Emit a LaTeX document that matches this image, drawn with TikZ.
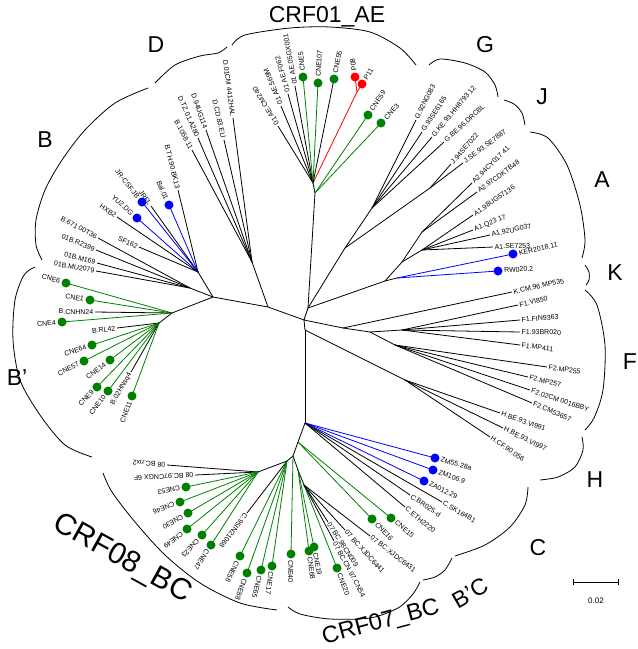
\documentclass[tikz,border=0pt]{standalone}
\usepackage{fontspec}
\setmainfont{Liberation Sans}
\usetikzlibrary{calc}
\definecolor{tgreen}{RGB}{0,128,0}
\definecolor{tblue}{RGB}{0,0,255}
\definecolor{tred}{RGB}{255,0,0}
\tikzset{
  br/.style={line width=0.8pt},
  lbl/.style={font=\fontsize{7}{8}\selectfont, inner sep=0pt},
  big/.style={font=\fontsize{23}{26}\selectfont, inner sep=0pt},
  brk/.style={line width=0.8pt},
}
\newcommand\tleaf[7]{%
  \coordinate (#1) at #3;
  \draw[br,#4] (#2) -- (#1);
  \def\tdot{#5}\def\tnone{none}%
  \ifx\tdot\tnone \def\tgap{1.5pt}\else \fill[#5] (#1) circle[radius=4.5pt]; \def\tgap{6pt}\fi
  \pgfmathanglebetweenpoints{\pgfpointanchor{#2}{center}}{\pgfpointanchor{#1}{center}}%
  \let\tang\pgfmathresult
  \ifnum#7=0
    \node[lbl,rotate=\tang,anchor=west] (#1t) at ($(#1)!-\tgap!(#2)$) {#6};
  \else
    \node[lbl,rotate=\tang+180,anchor=east] (#1t) at ($(#1)!-\tgap!(#2)$) {#6};
  \fi
}
\begin{document}
\begin{tikzpicture}[x=1pt,y=-1pt]
\useasboundingbox (0,0) rectangle (638,649);
% ---------- internal nodes ----------
\coordinate (c0) at (304,320);
\coordinate (nup) at (308,308);
\coordinate (aeS) at (315,193);
\coordinate (ae1) at (313,183);
\coordinate (aeR) at (357,92);
\coordinate (nGJA) at (345,248);
\coordinate (nG) at (372,208);
\coordinate (nJ) at (430,188);
\coordinate (nAK) at (385,281);
\coordinate (nK) at (397,278);
\coordinate (nA) at (402,262);
\coordinate (nA2) at (422,232);
\coordinate (nA1) at (422,250);
\coordinate (nR) at (343,328);
\coordinate (nF) at (370,332);
\coordinate (nF1) at (402,330);
\coordinate (nF2) at (395,345);
\coordinate (cd1) at (305,330);
\coordinate (nH) at (405,380);
\coordinate (cC) at (305,423);
\coordinate (cC2) at (298,442);
\coordinate (bc) at (293,456);
\coordinate (c7) at (298,470);
\coordinate (c7b) at (304,485);
\coordinate (c8) at (287,461);
\coordinate (c8b) at (258,472);
\coordinate (nDs) at (268,307);
\coordinate (nD) at (252,262);
\coordinate (nB) at (213,297);
\coordinate (nBa) at (198,272);
\coordinate (nBb) at (190,288);
\coordinate (bp1) at (172,313);
\coordinate (bp2) at (159,323);
\draw[br] (c0)--(nup); \draw[br] (nup)--(aeS); \draw[br] (aeS)--(ae1);
\draw[br,tred] (ae1)--(aeR);
\draw[br] (nup)--(nGJA); \draw[br] (nGJA)--(nG); \draw[br] (nGJA)--(nJ);
\draw[br] (nup)--(nAK); \draw[br] (nAK)--(nK); \draw[br] (nAK)--(nA);
\draw[br] (nA)--(nA2); \draw[br] (nA)--(nA1);
\draw[br] (c0)--(nR); \draw[br] (nR)--(nF); \draw[br] (nF)--(nF1); \draw[br] (nF)--(nF2);
\draw[br] (c0)--(cd1); \draw[br] (cd1)--(nH); \draw[br] (cd1)--(cC);
\draw[br] (cC)--(cC2); \draw[br] (cC2)--(bc); \draw[br] (bc)--(c7); \draw[br] (c7)--(c7b);
\draw[br] (bc)--(c8); \draw[br] (c8)--(c8b);
\draw[br] (c0)--(nDs); \draw[br] (nDs)--(nD); \draw[br] (nDs)--(nB);
\draw[br] (nB)--(nBa); \draw[br] (nB)--(nBb); \draw[br] (nB)--(bp1); \draw[br] (bp1)--(bp2);
% ---------- CRF01_AE ----------
\tleaf{ae01}{ae1}{(278,126)}{black}{none}{01 AE.CM240}{0}
\tleaf{ae02}{ae1}{(281,106)}{black}{none}{01 AE.569M}{0}
\tleaf{ae03}{ae1}{(288,94)}{black}{none}{01 AE.F062}{0}
\tleaf{ae04}{ae1}{(295,86)}{black}{none}{01 AE.05GX001}{0}
\tleaf{ae05}{ae1}{(303,77)}{tgreen}{tgreen}{CNE5}{0}
\tleaf{ae06}{ae1}{(318,83)}{tgreen}{tgreen}{CNE107}{0}
\tleaf{ae07}{ae1}{(334,79)}{black}{tgreen}{CNE55}{0}
\tleaf{ae08}{aeR}{(355,77)}{tred}{tred}{P08}{0}
\tleaf{ae09}{aeR}{(362,84)}{tred}{tred}{P11}{0}
\tleaf{ae10}{aeS}{(368,115)}{tgreen}{tgreen}{CNE59}{0}
\tleaf{ae11}{aeS}{(381,123)}{tgreen}{tgreen}{CNE3}{0}
% ---------- D ----------
\tleaf{d0}{nD}{(192,150)}{black}{none}{B.1058 11}{1}
\tleaf{d1}{nD}{(198,138)}{black}{none}{D.TZ.01.A280}{1}
\tleaf{d2}{nD}{(206,130)}{black}{none}{D.94UG114}{1}
\tleaf{d3}{nD}{(224,140)}{black}{none}{D.CD.83.ELI}{1}
\tleaf{d4}{nD}{(233,118)}{black}{none}{D.01CM 4412HAL}{1}
% ---------- B ----------
\tleaf{b01}{nBa}{(178,190)}{black}{none}{B.TH.90.BK13}{1}
\tleaf{b03}{nBa}{(169,205)}{tblue}{tblue}{Bal.01}{1}
\tleaf{b04}{nBa}{(151,206)}{black}{none}{JRFL}{1}
\tleaf{b05}{nBa}{(142,202)}{tblue}{tblue}{JR-CSF.JB}{1}
\tleaf{b06}{nBa}{(137,218)}{tblue}{tblue}{YU2.DG}{1}
\tleaf{b07}{nBa}{(117,217)}{black}{none}{HXB2}{1}
\tleaf{b08}{nBa}{(139,247)}{black}{none}{SF162}{1}
\tleaf{b09}{nBb}{(98,238)}{black}{none}{B.671 00T36}{1}
\tleaf{b10}{nBb}{(96,250)}{black}{none}{01B.R2399}{1}
\tleaf{b11}{nBb}{(97,263)}{black}{none}{01B.M169}{1}
\tleaf{b12}{nBb}{(96,271)}{black}{none}{01B.MU2079}{1}
% ---------- B' ----------
\tleaf{p01}{bp1}{(66,283)}{tgreen}{tgreen}{CNE6}{1}
\tleaf{p02}{bp1}{(90,300)}{tgreen}{tgreen}{CNE1}{1}
\tleaf{p03}{bp1}{(95,312)}{black}{none}{B.CNHN24}{1}
\tleaf{p04}{bp1}{(62,322)}{tgreen}{tgreen}{CNE4}{1}
\tleaf{p05}{bp2}{(117,328)}{black}{none}{B.RL42}{1}
\tleaf{p06}{bp2}{(92,345)}{tgreen}{tgreen}{CNE64}{1}
\tleaf{p07}{bp2}{(84,361)}{tgreen}{tgreen}{CNE57}{1}
\tleaf{p08}{bp2}{(110,360)}{tgreen}{tgreen}{CNE14}{1}
\tleaf{p09}{bp2}{(97,387)}{tgreen}{tgreen}{CNE9}{1}
\tleaf{p10}{bp2}{(108,391)}{tgreen}{tgreen}{CNE10}{1}
\tleaf{p11}{bp2}{(131,372)}{black}{none}{B.02HNsq4}{1}
\tleaf{p12}{bp2}{(132,396)}{tgreen}{tgreen}{CNE11}{1}
% ---------- G J A K ----------
\tleaf{g1}{nG}{(416,120)}{black}{none}{G.92NG083}{0}
\tleaf{g2}{nG}{(422,132)}{black}{none}{G.93SE6165}{0}
\tleaf{g3}{nG}{(432,137)}{black}{none}{G.KE.93.HH8793 12}{0}
\tleaf{g4}{nG}{(444,142)}{black}{none}{G.BE.96.DRCBL}{0}
\tleaf{j1}{nJ}{(451,164)}{black}{none}{J.94SE7022}{0}
\tleaf{j2}{nJ}{(463,163)}{black}{none}{J.SE.93.SE7887}{0}
\tleaf{a1}{nA2}{(472,183)}{black}{none}{A2.94CY017 41}{0}
\tleaf{a2}{nA2}{(477,192)}{black}{none}{A2.97CDKTB48}{0}
\tleaf{a3}{nA1}{(473,215)}{black}{none}{A1.98UG57136}{0}
\tleaf{a4}{nA1}{(473,230)}{black}{none}{A1.Q23 17}{0}
\tleaf{a5}{nA1}{(490,235)}{black}{none}{A1.92UG037}{0}
\tleaf{a6}{nA1}{(493,247)}{black}{none}{A1.SE7253}{0}
\tleaf{k1}{nK}{(513,254)}{tblue}{tblue}{KER2018.11}{0}
\tleaf{k2}{nK}{(498,271)}{tblue}{tblue}{RW020.2}{0}
\tleaf{k3}{nR}{(512,292)}{black}{none}{K.CM.96.MP535}{0}
% ---------- F H ----------
\tleaf{f1}{nF1}{(518,305)}{black}{none}{F1.VI850}{0}
\tleaf{f2}{nF1}{(520,320)}{black}{none}{F1.FIN9363}{0}
\tleaf{f3}{nF1}{(520,332)}{black}{none}{F1.93BR020}{0}
\tleaf{f4}{nF1}{(520,345)}{black}{none}{F1.MP411}{0}
\tleaf{f5}{nF2}{(547,367)}{black}{none}{F2.MP255}{0}
\tleaf{f6}{nF2}{(528,377)}{black}{none}{F2.MP257}{0}
\tleaf{f7}{nF2}{(530,390)}{black}{none}{F2.02CM 0016BBY}{0}
\tleaf{f8}{nF2}{(532,403)}{black}{none}{F2.CM53657}{0}
\tleaf{h1}{nH}{(500,413)}{black}{none}{H.BE.93.VI991}{0}
\tleaf{h2}{nH}{(503,428)}{black}{none}{H.BE.93.VI997}{0}
\tleaf{h3}{nH}{(490,437)}{black}{none}{H.CF.90.056}{0}
% ---------- C ----------
\tleaf{cz1}{cC}{(435,458)}{tblue}{tblue}{ZM55.28a}{0}
\tleaf{cz2}{cC}{(433,470)}{tblue}{tblue}{ZM106.9}{0}
\tleaf{cz3}{cC}{(424,481)}{tblue}{tblue}{ZA012.29}{0}
\tleaf{cz4}{cC}{(442,502)}{black}{none}{C.SK164B1}{0}
\tleaf{cz5}{cC}{(410,495)}{black}{none}{C.BR025-d}{0}
\tleaf{cz6}{cC}{(405,507)}{black}{none}{C.ETH2220}{0}
\tleaf{cz7}{cC2}{(391,518)}{tgreen}{tgreen}{CNE15}{0}
\tleaf{cz8}{cC2}{(372,519)}{tgreen}{tgreen}{CNE16}{0}
% ---------- CRF07_BC ----------
\tleaf{s1}{bc}{(291,554)}{tgreen}{tgreen}{CNE40}{0}
\tleaf{s2}{c7}{(309,551)}{tgreen}{tgreen}{CNE68}{0}
\tleaf{s3}{c7}{(314,547)}{tgreen}{tgreen}{CNE19}{0}
\tleaf{s4}{c7b}{(337,568)}{tgreen}{tgreen}{CNE20}{0}
\tleaf{s5}{c7b}{(328,522)}{black}{none}{07 BC.98CN009}{0}
\tleaf{s6}{c7b}{(334,541)}{black}{none}{07 BC.CN.97.CN54}{0}
\tleaf{s7}{c7b}{(345,530)}{black}{none}{07 BC.XJDC6441}{0}
\tleaf{s8}{c7b}{(370,536)}{black}{none}{07 BC.XJDC6431}{0}
% ---------- CRF08_BC ----------
\tleaf{e01}{c8b}{(167,465)}{black}{none}{08 BC.nx2}{0}
\tleaf{e02}{c8b}{(195,475)}{black}{none}{08 BC.97CNGX 6F}{0}
\tleaf{e03}{c8b}{(186,487)}{tgreen}{tgreen}{CNE53}{0}
\tleaf{e04}{c8b}{(180,502)}{tgreen}{tgreen}{CNE46}{0}
\tleaf{e05}{c8b}{(188,513)}{tgreen}{tgreen}{CNE30}{0}
\tleaf{e06}{c8b}{(187,529)}{tgreen}{tgreen}{CNE49}{0}
\tleaf{e07}{c8b}{(202,535)}{tgreen}{tgreen}{CNE23}{0}
\tleaf{e08}{c8b}{(211,545)}{tgreen}{tgreen}{CNE47}{0}
\tleaf{e09}{c8}{(247,513)}{black}{none}{C.95IN21068}{0}
\tleaf{e10}{c8}{(240,556)}{tgreen}{tgreen}{CNE58}{0}
\tleaf{e11}{c8}{(247,573)}{tgreen}{tgreen}{CNE88}{0}
\tleaf{e12}{c8}{(261,570)}{tgreen}{tgreen}{CNE65}{0}
\tleaf{e13}{c8}{(272,566)}{tgreen}{tgreen}{CNE17}{0}
% ---------- brackets ----------
\draw[brk] plot[smooth] coordinates {(155,83) (175,65) (200,56) (218,53) (227,47)};
\draw[brk] plot[smooth] coordinates {(232,45) (245,35) (290,28) (330,27) (370,32) (400,48) (416,65)};
\draw[brk] plot[smooth] coordinates {(429,65) (440,59) (465,63) (485,72) (495,85) (498,97)};
\draw[brk] plot[smooth] coordinates {(504,100) (514,104) (522,113) (525,125)};
\draw[brk] plot[smooth] coordinates {(530,132) (548,138) (567,165) (580,205) (585,240) (582,258)};
\draw[brk] plot[smooth] coordinates {(585,265) (589,272) (589,280) (586,285)};
\draw[brk] plot[smooth] coordinates {(585,290) (597,305) (605,345) (603,390) (594,418) (585,430)};
\draw[brk] plot[smooth] coordinates {(582,437) (583,450) (575,467) (558,477) (540,480)};
\draw[brk] plot[smooth] coordinates {(528,487) (525,505) (510,527) (485,545) (455,556)};
\draw[brk] plot[smooth] coordinates {(452,558) (445,570) (435,577) (423,580)};
\draw[brk] plot[smooth] coordinates {(288,607) (300,614) (330,619) (370,618) (398,608) (413,594) (420,582)};
\draw[brk] plot[smooth] coordinates {(103,473) (112,492) (135,522) (165,555) (200,583) (240,603) (277,610)};
\draw[brk] plot[smooth] coordinates {(35,267) (24,275) (15,300) (13,340) (20,380) (40,415) (65,445) (92,457)};
\draw[brk] plot[smooth] coordinates {(42,260) (36,245) (36,220) (45,190) (62,160) (85,130) (115,103) (148,88)};
% ---------- clade labels ----------
\node[big] (lAE) at (327,17) {CRF01\_AE};
\node[big] (lD) at (156,45) {D};
\node[big] (lG) at (485,45) {G};
\node[big] (lJ) at (542,97) {J};
\node[big] (lA) at (602,180) {A};
\node[big] (lB) at (45,140) {B};
\node[big] (lK) at (615,273) {K};
\node[big] (lF) at (630,362) {F};
\node[big] (lBp) at (17,378) {B'};
\node[big] (lH) at (595,480) {H};
\node[big] (lC) at (538,548) {C};
\node[big,rotate=30] (lBC) at (470,593) {B'C};
\node[big,rotate=15,font=\fontsize{23.5}{26}\selectfont] (l07) at (381,623) {CRF07\_BC};
\node[big,rotate=-29,font=\fontsize{30}{33}\selectfont] (l08) at (122,559) {CRF08\_BC};
% ---------- scale bar ----------
\coordinate (sb1) at (573,582); \coordinate (sb2) at (618,582);
\draw[br] (sb1)--(sb2);
\draw[br] ($(sb1)+(0,-3)$)--($(sb1)+(0,3)$);
\draw[br] ($(sb2)+(0,-3)$)--($(sb2)+(0,3)$);
\node[font=\fontsize{8}{9}\selectfont,inner sep=0pt] (sbl) at (596,601) {0.02};
\end{tikzpicture}
\end{document}
